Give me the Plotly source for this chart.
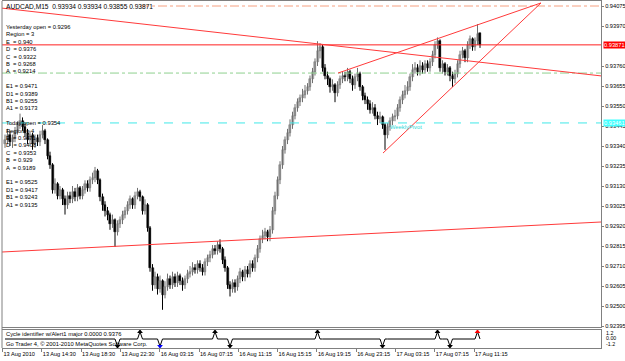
import plotly.graph_objects as go

# ---------------- data ----------------
opens = [
0.9335,0.9337,0.9340,0.9336,0.9338,0.9342,0.9345,0.9347,0.9344,0.9341,
0.9337,0.9340,0.9335,0.9338,0.9336,0.9340,0.9342,0.9337,0.9329,0.9324,
0.9311,0.9314,0.9308,0.9311,0.9306,0.9303,0.9308,0.9306,0.9310,0.9307,
0.9312,0.9308,0.9311,0.9314,0.9312,0.9316,0.9317,0.9321,0.9316,0.9307,
0.9303,0.9300,0.9298,0.9293,0.9295,0.9289,0.9293,0.9295,0.9298,0.9300,
0.9303,0.9306,0.9303,0.9308,0.9310,0.9307,0.9300,0.9303,0.9291,0.9270,
0.9261,0.9265,0.9259,0.9263,0.9256,0.9260,0.9264,0.9261,0.9265,0.9262,
0.9266,0.9263,0.9261,0.9264,0.9267,0.9268,0.9270,0.9269,0.9272,0.9270,
0.9268,0.9273,0.9275,0.9277,0.9280,0.9279,0.9282,0.9280,0.9274,0.9270,
0.9261,0.9259,0.9262,0.9260,0.9264,0.9268,0.9265,0.9269,0.9267,0.9272,
0.9270,0.9275,0.9280,0.9285,0.9287,0.9289,0.9286,0.9290,0.9300,0.9308,
0.9316,0.9324,0.9332,0.9337,0.9341,0.9345,0.9350,0.9354,0.9357,0.9359,
0.9361,0.9363,0.9365,0.9369,0.9373,0.9378,0.9384,0.9386,0.9375,0.9371,
0.9369,0.9365,0.9366,0.9362,0.9366,0.9369,0.9371,0.9370,0.9373,0.9369,
0.9366,0.9370,0.9372,0.9365,0.9360,0.9358,0.9356,0.9353,0.9354,0.9350,
0.9348,0.9349,0.9345,0.9340,0.9344,0.9347,0.9349,0.9350,0.9354,0.9358,
0.9361,0.9363,0.9365,0.9370,0.9374,0.9375,0.9373,0.9376,0.9374,0.9377,
0.9375,0.9378,0.9382,0.9387,0.9389,0.9375,0.9377,0.9373,0.9375,0.9371,
0.9369,0.9372,0.9377,0.9382,0.9384,0.9380,0.9387,0.9390,0.9386,0.9389,
0.93934]
highs = [
0.9340,0.9343,0.9342,0.9340,0.9344,0.9347,0.9351,0.9349,0.9346,0.9343,
0.9342,0.9341,0.9340,0.9340,0.9342,0.9345,0.9343,0.9338,0.9331,0.9325,
0.9317,0.9315,0.9313,0.9312,0.9308,0.9310,0.9310,0.9313,0.9312,0.9314,
0.9313,0.9313,0.9316,0.9316,0.9318,0.9320,0.9323,0.9322,0.9317,0.9309,
0.9305,0.9302,0.9299,0.9298,0.9296,0.9295,0.9297,0.9300,0.9302,0.9305,
0.9308,0.9307,0.9310,0.9312,0.9311,0.9308,0.9306,0.9304,0.9292,0.9272,
0.9268,0.9267,0.9266,0.9264,0.9263,0.9267,0.9266,0.9268,0.9267,0.9268,
0.9267,0.9265,0.9266,0.9269,0.9271,0.9273,0.9272,0.9274,0.9274,0.9272,
0.9275,0.9277,0.9279,0.9282,0.9282,0.9284,0.9285,0.9281,0.9276,0.9271,
0.9263,0.9264,0.9264,0.9266,0.9270,0.9269,0.9271,0.9271,0.9274,0.9274,
0.9277,0.9282,0.9287,0.9290,0.9291,0.9290,0.9292,0.9302,0.9310,0.9318,
0.9326,0.9334,0.9339,0.9343,0.9348,0.9352,0.9356,0.9359,0.9361,0.9364,
0.9366,0.9367,0.9371,0.9375,0.9380,0.9389,0.9388,0.9387,0.9377,0.9373,
0.9370,0.9369,0.9367,0.9368,0.9371,0.9373,0.9373,0.9375,0.9374,0.9371,
0.9372,0.9375,0.9373,0.9366,0.9362,0.9360,0.9358,0.9357,0.9356,0.9352,
0.9352,0.9350,0.9346,0.9346,0.9349,0.9351,0.9353,0.9356,0.9360,0.9363,
0.9366,0.9368,0.9372,0.9377,0.9378,0.9377,0.9379,0.9378,0.9379,0.9379,
0.9380,0.9384,0.9389,0.9391,0.9390,0.9379,0.9378,0.9377,0.9376,0.9373,
0.9374,0.9379,0.9384,0.9386,0.9385,0.9389,0.9392,0.9391,0.9391,0.9398,
0.93934]
lows = [
0.9333,0.9335,0.9334,0.9333,0.9336,0.9340,0.9343,0.9342,0.9339,0.9335,
0.9335,0.9332,0.9333,0.9334,0.9334,0.9338,0.9335,0.9327,0.9322,0.9309,
0.9309,0.9306,0.9306,0.9303,0.9298,0.9301,0.9304,0.9304,0.9305,0.9305,
0.9306,0.9306,0.9309,0.9310,0.9310,0.9314,0.9315,0.9314,0.9305,0.9300,
0.9297,0.9295,0.9290,0.9291,0.9281,0.9287,0.9291,0.9293,0.9296,0.9298,
0.9301,0.9301,0.9301,0.9306,0.9305,0.9298,0.9298,0.9289,0.9268,0.9258,
0.9259,0.9256,0.9257,0.9248,0.9254,0.9258,0.9259,0.9259,0.9260,0.9260,
0.9261,0.9258,0.9259,0.9262,0.9265,0.9266,0.9267,0.9267,0.9268,0.9266,
0.9266,0.9271,0.9273,0.9275,0.9277,0.9277,0.9278,0.9272,0.9268,0.9259,
0.9255,0.9257,0.9257,0.9258,0.9262,0.9263,0.9263,0.9265,0.9265,0.9268,
0.9268,0.9273,0.9278,0.9283,0.9285,0.9284,0.9284,0.9288,0.9298,0.9306,
0.9314,0.9322,0.9330,0.9335,0.9339,0.9343,0.9348,0.9352,0.9355,0.9357,
0.9359,0.9361,0.9363,0.9367,0.9371,0.9376,0.9380,0.9373,0.9369,0.9366,
0.9362,0.9363,0.9357,0.9360,0.9364,0.9367,0.9368,0.9368,0.9367,0.9363,
0.9364,0.9368,0.9363,0.9358,0.9356,0.9353,0.9351,0.9351,0.9348,0.9345,
0.9346,0.9343,0.9332,0.9338,0.9342,0.9345,0.9347,0.9348,0.9352,0.9356,
0.9359,0.9361,0.9363,0.9368,0.9372,0.9371,0.9371,0.9372,0.9372,0.9373,
0.9373,0.9376,0.9380,0.9385,0.9373,0.9372,0.9371,0.9371,0.9368,0.9365,
0.9367,0.9370,0.9375,0.9380,0.9378,0.9378,0.9385,0.9384,0.9384,0.9387,
0.93855]
closes = [
0.9337,0.9340,0.9336,0.9338,0.9342,0.9345,0.9347,0.9344,0.9341,0.9337,
0.9340,0.9335,0.9338,0.9336,0.9340,0.9342,0.9337,0.9329,0.9324,0.9311,
0.9314,0.9308,0.9311,0.9306,0.9303,0.9308,0.9306,0.9310,0.9307,0.9312,
0.9308,0.9311,0.9314,0.9312,0.9316,0.9317,0.9321,0.9316,0.9307,0.9303,
0.9300,0.9298,0.9293,0.9295,0.9289,0.9293,0.9295,0.9298,0.9300,0.9303,
0.9306,0.9303,0.9308,0.9310,0.9307,0.9300,0.9303,0.9291,0.9270,0.9261,
0.9265,0.9259,0.9263,0.9256,0.9260,0.9264,0.9261,0.9265,0.9262,0.9266,
0.9263,0.9261,0.9264,0.9267,0.9268,0.9270,0.9269,0.9272,0.9270,0.9268,
0.9273,0.9275,0.9277,0.9280,0.9279,0.9282,0.9280,0.9274,0.9270,0.9261,
0.9259,0.9262,0.9260,0.9264,0.9268,0.9265,0.9269,0.9267,0.9272,0.9270,
0.9275,0.9280,0.9285,0.9287,0.9289,0.9286,0.9290,0.9300,0.9308,0.9316,
0.9324,0.9332,0.9337,0.9341,0.9345,0.9350,0.9354,0.9357,0.9359,0.9361,
0.9363,0.9365,0.9369,0.9373,0.9378,0.9384,0.9386,0.9375,0.9371,0.9369,
0.9365,0.9366,0.9362,0.9366,0.9369,0.9371,0.9370,0.9373,0.9369,0.9366,
0.9370,0.9372,0.9365,0.9360,0.9358,0.9356,0.9353,0.9354,0.9350,0.9348,
0.9349,0.9345,0.9340,0.9344,0.9347,0.9349,0.9350,0.9354,0.9358,0.9361,
0.9363,0.9365,0.9370,0.9374,0.9375,0.9373,0.9376,0.9374,0.9377,0.9375,
0.9378,0.9382,0.9387,0.9389,0.9375,0.9377,0.9373,0.9375,0.9371,0.9369,
0.9372,0.9377,0.9382,0.9384,0.9380,0.9387,0.9390,0.9386,0.9389,0.9393,
0.93871]

date_labels = ["13 Aug 2010", "13 Aug 14:30", "13 Aug 18:30", "13 Aug 22:30",
               "16 Aug 03:15", "16 Aug 07:15", "16 Aug 11:15", "16 Aug 15:15",
               "16 Aug 19:15", "16 Aug 23:15", "17 Aug 03:15", "17 Aug 07:15",
               "17 Aug 11:15"]
price_ticks = [0.92395, 0.92500, 0.92605, 0.92710, 0.92815, 0.92920, 0.93025,
               0.93130, 0.93235, 0.93340, 0.93445, 0.93550, 0.93655, 0.93760,
               0.93970, 0.94075]

bid_price = 0.93871
weekly_pivot = 0.93461
green_level = 0.93723
orange_level = 0.94075
# trendlines: (bar1, price1, bar2, price2)
trendlines = [(-2.0, 0.94065, 238.4, 0.93708),
              (-2.0, 0.92783, 238.4, 0.92941),
              (133.2, 0.93723, 214.4, 0.94091),
              (151.2, 0.93303, 214.4, 0.94091)]

cycle_up = [54, 84, 125, 173]
cycle_down = [45, 90, 151, 178]
cycle_down_blue = [62]
cycle_up_red = [189]
sub_labels = ["1.2", "0.00", "-1.2"]

info_lines = [
    "Yesterday open = 0.9296", "Region = 3", "E  = 0.940", "D  = 0.9376",
    "C  = 0.9322", "B  = 0.9268", "A  = 0.9214", "",
    "E1 = 0.9471", "D1 = 0.9389", "B1 = 0.9255", "A1 = 0.9173", "",
    "Today open = 0.9354", "Region = 4", "E  = 0.9471", "D  = 0.9408",
    "C  = 0.9353", "B  = 0.929", "A  = 0.9189", "",
    "E1 = 0.9525", "D1 = 0.9417", "B1 = 0.9243", "A1 = 0.9135"]
header = "AUDCAD,M15  0.93934 0.93934 0.93855 0.93871"

# ---------------- layout helpers ----------------
W, H = 625, 361
ML, MR, MT, MB = 2, 24, 1, 13
PW, PH = W - ML - MR, H - MT - MB
MAIN_BOT = 327
SUB_TOP = 330

def fx(px):
    return (px - ML) / PW

def fy(py):
    return (H - MB - py) / PH

FONT = "Liberation Sans"
FS = 6.6
FS_AX = 5.7
FS_SMALL = 5.8
n = len(closes)
idx = list(range(n))
UP_FILL, UP_LINE = "#b0b0b0", "#707070"
DN_FILL, DN_LINE = "#000000", "#000000"

fig = go.Figure()
# wicks
for up in (True, False):
    wx, wy = [], []
    for i in idx:
        if (closes[i] >= opens[i]) == up:
            wx += [i, i, None]
            wy += [lows[i], highs[i], None]
    fig.add_trace(go.Scatter(x=wx, y=wy, mode="lines",
                             line=dict(color=UP_LINE if up else DN_LINE, width=1),
                             showlegend=False, hoverinfo="skip", xaxis="x", yaxis="y"))
# bodies
body_base = [min(o, c) for o, c in zip(opens, closes)]
body_h = [max(abs(c - o), 0.00004) for o, c in zip(opens, closes)]
body_col = [UP_FILL if c >= o else DN_FILL for o, c in zip(opens, closes)]
body_lc = [UP_LINE if c >= o else DN_LINE for o, c in zip(opens, closes)]
fig.add_trace(go.Bar(x=idx, y=body_h, base=body_base, width=0.8,
                     marker=dict(color=body_col, line=dict(color=body_lc, width=0.5)),
                     showlegend=False, hoverinfo="skip", xaxis="x", yaxis="y"))

# cycle indicator
cyc = [0.0] * n
for i in cycle_up + cycle_up_red:
    cyc[i] = 1.0
for i in cycle_down + cycle_down_blue:
    cyc[i] = -1.0
fig.add_trace(go.Scatter(x=idx, y=cyc, mode="lines",
                         line=dict(color="#000000", width=1),
                         showlegend=False, hoverinfo="skip",
                         xaxis="x2", yaxis="y2"))
for xs, yv, sym, col in [(cycle_up, 1.0, "triangle-up", "#000000"),
                         (cycle_down, -1.0, "triangle-down", "#000000"),
                         (cycle_down_blue, -1.0, "triangle-down", "#0000ff"),
                         (cycle_up_red, 1.0, "triangle-up", "#ff0000")]:
    fig.add_trace(go.Scatter(x=xs, y=[yv] * len(xs), mode="markers",
                             marker=dict(symbol=sym, size=5, color=col),
                             showlegend=False, hoverinfo="skip", xaxis="x2", yaxis="y2"))

XR = [(ML - 5) / 2.5, (ML + PW - 5) / 2.5]
YR = [0.94075 - (MAIN_BOT - 6) * 5.25e-5, 0.94075 + 5 * 5.25e-5]

shapes = []
shapes.append(dict(type="line", xref="paper", yref="y", x0=0, x1=1, y0=bid_price, y1=bid_price,
                   line=dict(color="#ff2020", width=1)))
shapes.append(dict(type="line", xref="paper", yref="y", x0=0, x1=1, y0=green_level, y1=green_level,
                   line=dict(color="#8fd08f", width=1, dash="dashdot")))
shapes.append(dict(type="line", xref="paper", yref="y", x0=0, x1=1, y0=weekly_pivot, y1=weekly_pivot,
                   line=dict(color="#40e8e8", width=1, dash="dash")))
shapes.append(dict(type="line", xref="paper", yref="y", x0=fx(140), x1=1, y0=orange_level, y1=orange_level,
                   line=dict(color="#f5a080", width=1, dash="dashdot")))
for (a, pa, b, pb) in trendlines:
    shapes.append(dict(type="line", xref="x", yref="y", x0=a, x1=b, y0=pa, y1=pb,
                       line=dict(color="#ff3a3a", width=1)))
shapes.append(dict(type="line", xref="paper", yref="paper", x0=0, x1=0, y0=0, y1=1,
                   line=dict(color="#808080", width=1)))

def txt(px, py, t, size, color="black", **kw):
    d = dict(x=fx(px), y=fy(py), xref="paper", yref="paper", text=t,
             showarrow=False, xanchor="left", yanchor="middle",
             font=dict(family=FONT, size=size, color=color))
    d.update(kw)
    return d

annotations = [txt(4, 6, header, FS)]
for k, t in enumerate(info_lines):
    if t:
        annotations.append(txt(4, 27 + k * 7.4, t, FS_SMALL))
annotations.append(txt(388, 127, "WeeklyPivot", FS_SMALL, "#30d8d8"))
annotations.append(dict(x=fx(603), y=bid_price, xref="paper", yref="y", text="0.93871",
                        showarrow=False, xanchor="left", yanchor="middle", bgcolor="#ff0000",
                        borderpad=0, font=dict(family=FONT, size=FS_AX, color="white")))
annotations.append(dict(x=fx(603), y=weekly_pivot, xref="paper", yref="y", text="0.93461",
                        showarrow=False, xanchor="left", yanchor="middle", bgcolor="#40ffff",
                        borderpad=0, font=dict(family=FONT, size=FS_AX, color="white")))
annotations.append(txt(4, 334, "Cycle identifier w/Alert1 major 0.0000 0.9376", FS_SMALL))
annotations.append(txt(4, 344, "Go Trader 4, © 2001-2010 MetaQuotes Software Corp.", FS_SMALL))
for t, py in zip(sub_labels, [332.5, 338, 343.5]):
    annotations.append(txt(604, py, t, 5.3))

date_pos = [-1.0 + k * 15.72 for k in range(len(date_labels))]

fig.update_layout(
    width=W, height=H, margin=dict(l=ML, r=MR, t=MT, b=MB),
    paper_bgcolor="white", plot_bgcolor="white", barmode="overlay", bargap=0,
    font=dict(family=FONT, size=FS, color="black"),
    showlegend=False, shapes=shapes, annotations=annotations,
    xaxis=dict(domain=[0, 1], range=XR, anchor="y", showgrid=False, zeroline=False,
               showticklabels=False, ticks="", showline=True, linecolor="#808080",
               mirror=True, automargin=False),
    yaxis=dict(domain=[fy(MAIN_BOT), 1], range=YR, side="right", anchor="x",
               tickmode="array", tickvals=price_ticks,
               ticktext=["%.5f" % v for v in price_ticks],
               ticks="outside", ticklen=2, tickcolor="#808080",
               showgrid=False, zeroline=False, showline=True, linecolor="#808080",
               automargin=False,
               tickfont=dict(family=FONT, size=FS_AX, color="black")),
    xaxis2=dict(domain=[0, 1], range=XR, anchor="y2", showgrid=False, zeroline=False,
                tickmode="array", tickvals=date_pos, ticktext=date_labels,
                tickangle=0, ticks="outside", ticklen=3, tickcolor="#808080",
                ticklabelposition="outside right", automargin=False,
                showline=True, linecolor="#808080", mirror=True,
                tickfont=dict(family=FONT, size=5.6, color="black")),
    yaxis2=dict(domain=[0, fy(SUB_TOP)], range=[-1.25, 1.25], side="right", anchor="x2",
                showticklabels=False, ticks="", showgrid=False, zeroline=False,
                showline=True, linecolor="#808080", automargin=False),
)

fig.write_html("out.html")
